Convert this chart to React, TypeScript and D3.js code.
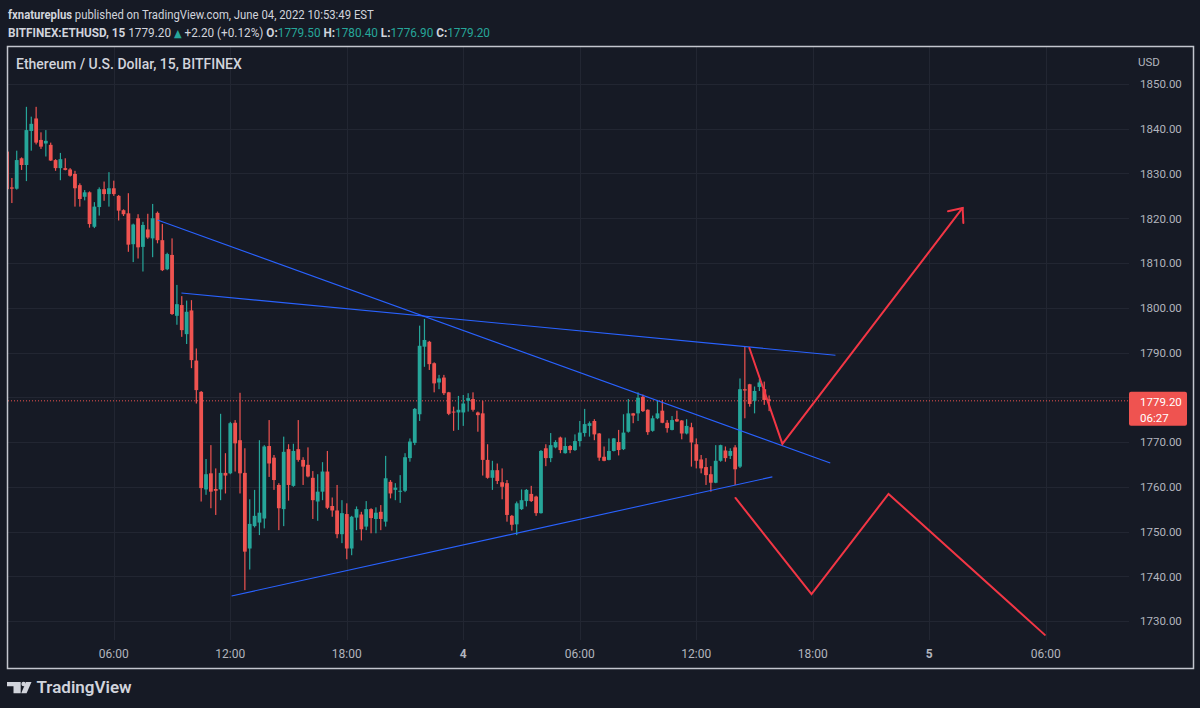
import React from "react";
import * as d3 from "d3";

const W = 1200;
const H = 708;

// 15-minute bars, first bar opens 2022-06-03 00:30
const BAR_START = Date.UTC(2022, 5, 3, 0, 30);
const BAR_MS = 15 * 60 * 1000;

const opens = [
  1834.9, 1826.9, 1826.6, 1833.4, 1831.9, 1839.5, 1842.3, 1837.5, 1836.7, 1836.4,
  1833.0, 1831.2, 1831.2, 1830.9, 1829.9, 1827.4, 1824.8, 1825.8, 1818.1, 1822.5,
  1826.5, 1825.4, 1826.7, 1825.0, 1821.8, 1821.1, 1814.2, 1820.0, 1813.6, 1817.5,
  1815.5, 1821.2, 1815.1, 1808.6, 1811.8, 1798.2, 1800.6, 1794.1, 1799.4, 1788.2,
  1781.2, 1759.4, 1763.0, 1759.5, 1759.4, 1763.1, 1763.0, 1774.3, 1770.4, 1763.1,
  1746.2, 1751.2, 1752.0, 1752.9, 1769.1, 1766.5, 1760.4, 1755.0, 1768.4, 1760.2,
  1768.4, 1766.0, 1764.9, 1762.0, 1756.7, 1758.9, 1763.4, 1755.7, 1754.7, 1749.4,
  1753.9, 1746.2, 1753.1, 1753.8, 1751.1, 1755.0, 1752.8, 1754.4, 1752.2, 1761.1,
  1759.3, 1758.9, 1759.1, 1766.4, 1769.8, 1776.2, 1791.3, 1792.4, 1787.6, 1783.3,
  1784.4, 1781.1, 1776.8, 1776.6, 1776.6, 1779.2, 1779.6, 1776.6, 1776.4, 1766.0,
  1762.0, 1763.7, 1761.0, 1760.8, 1753.5, 1751.6, 1755.0, 1756.8, 1758.4, 1757.8,
  1754.1, 1768.6, 1766.4, 1768.8, 1771.0, 1767.5, 1769.1, 1768.2, 1770.2, 1772.0,
  1773.6, 1774.7, 1771.9, 1766.7, 1766.0, 1768.0, 1770.0, 1768.4, 1772.3, 1776.4,
  1776.4, 1780.1, 1777.2, 1772.5, 1775.3, 1777.0, 1774.3, 1772.7, 1775.1, 1774.8,
  1771.9, 1773.3, 1769.5, 1766.1, 1764.4, 1762.8, 1760.9, 1765.8, 1768.1, 1766.9,
  1768.8, 1764.5, 1781.8, 1782.9, 1779.2, 1782.3, 1781.8, 1779.5,
];

const highs = [
  1835.5, 1829.0, 1835.1, 1833.6, 1844.9, 1842.7, 1844.9, 1839.2, 1839.7, 1836.9,
  1833.2, 1834.6, 1833.4, 1831.2, 1830.6, 1827.8, 1826.3, 1826.0, 1823.6, 1826.9,
  1828.2, 1830.3, 1828.4, 1825.2, 1822.0, 1825.6, 1818.8, 1820.9, 1819.2, 1821.0,
  1823.2, 1821.5, 1818.7, 1812.3, 1815.5, 1805.1, 1802.6, 1801.6, 1801.7, 1790.9,
  1781.4, 1766.2, 1769.3, 1764.1, 1776.3, 1767.5, 1774.5, 1774.9, 1781.0, 1768.6,
  1757.2, 1759.3, 1770.4, 1769.3, 1774.9, 1767.1, 1760.8, 1771.2, 1769.5, 1769.6,
  1774.9, 1766.6, 1768.8, 1763.5, 1762.8, 1765.5, 1768.0, 1757.6, 1760.4, 1757.0,
  1756.3, 1753.5, 1755.6, 1754.4, 1756.8, 1755.2, 1755.4, 1755.9, 1766.9, 1761.5,
  1760.8, 1762.6, 1767.5, 1770.8, 1777.6, 1796.0, 1797.5, 1792.6, 1787.8, 1785.0,
  1785.0, 1781.2, 1777.9, 1780.3, 1780.5, 1780.9, 1781.1, 1776.8, 1779.2, 1769.5,
  1765.8, 1765.2, 1764.1, 1761.5, 1753.7, 1756.7, 1759.4, 1759.5, 1760.2, 1758.0,
  1768.2, 1769.5, 1772.0, 1770.4, 1771.2, 1771.0, 1769.3, 1771.7, 1774.7, 1777.4,
  1774.6, 1775.1, 1772.0, 1769.0, 1770.8, 1770.9, 1772.7, 1776.2, 1779.6, 1776.5,
  1781.1, 1780.6, 1777.3, 1775.9, 1779.4, 1779.4, 1774.9, 1775.8, 1777.0, 1774.9,
  1775.1, 1774.3, 1770.8, 1767.1, 1766.4, 1764.6, 1769.3, 1769.4, 1769.0, 1768.6,
  1769.3, 1784.2, 1791.3, 1783.0, 1782.4, 1784.1, 1783.5, 1780.4,
];

const lows = [
  1826.0, 1823.4, 1826.4, 1830.8, 1828.3, 1835.1, 1836.5, 1835.5, 1833.8, 1832.8,
  1830.6, 1828.5, 1830.7, 1829.3, 1822.6, 1822.6, 1824.0, 1817.9, 1817.8, 1820.6,
  1823.9, 1822.6, 1825.0, 1819.5, 1820.5, 1812.5, 1810.2, 1811.0, 1808.1, 1815.4,
  1811.3, 1814.4, 1808.2, 1808.4, 1798.4, 1796.2, 1793.5, 1791.9, 1786.5, 1778.6,
  1756.7, 1758.2, 1755.2, 1753.7, 1757.0, 1758.5, 1762.8, 1763.4, 1758.5, 1736.9,
  1741.5, 1750.9, 1749.2, 1750.7, 1762.2, 1759.3, 1750.3, 1751.2, 1756.9, 1760.0,
  1765.6, 1760.4, 1762.1, 1752.8, 1752.4, 1757.0, 1755.0, 1753.3, 1748.5, 1747.4,
  1743.8, 1744.7, 1750.3, 1748.0, 1750.3, 1749.6, 1749.6, 1750.3, 1751.1, 1757.4,
  1757.0, 1756.4, 1758.8, 1765.6, 1769.3, 1774.7, 1786.8, 1786.1, 1781.1, 1781.8,
  1780.5, 1776.0, 1772.5, 1772.7, 1773.6, 1776.8, 1776.8, 1772.3, 1762.5, 1761.8,
  1759.3, 1760.6, 1757.2, 1752.2, 1750.2, 1749.2, 1754.8, 1755.6, 1756.6, 1753.5,
  1754.0, 1764.6, 1765.5, 1768.6, 1767.5, 1767.4, 1767.5, 1768.0, 1769.0, 1771.2,
  1771.2, 1770.4, 1765.8, 1765.7, 1765.9, 1767.9, 1767.0, 1768.2, 1772.1, 1774.2,
  1774.7, 1776.7, 1771.6, 1772.3, 1775.1, 1774.2, 1772.1, 1772.6, 1774.5, 1770.6,
  1771.7, 1764.5, 1764.1, 1763.0, 1760.4, 1758.9, 1760.8, 1765.6, 1765.6, 1766.2,
  1760.4, 1764.2, 1775.3, 1777.9, 1776.4, 1781.4, 1778.3, 1776.9,
];

const closes = [
  1826.5, 1826.6, 1833.0, 1831.9, 1839.7, 1841.1, 1836.9, 1836.0, 1837.3, 1832.9,
  1831.2, 1833.2, 1830.8, 1829.5, 1826.7, 1824.3, 1825.8, 1818.7, 1822.6, 1826.5,
  1825.4, 1826.7, 1825.4, 1821.7, 1820.9, 1814.1, 1818.6, 1813.5, 1818.5, 1815.7,
  1820.0, 1815.1, 1808.4, 1812.0, 1798.6, 1800.8, 1795.0, 1799.1, 1788.3, 1781.6,
  1759.7, 1762.8, 1758.9, 1759.1, 1763.1, 1762.5, 1774.2, 1769.7, 1763.0, 1745.5,
  1751.7, 1753.5, 1754.2, 1769.0, 1765.2, 1761.5, 1755.2, 1767.8, 1760.4, 1768.0,
  1766.0, 1764.5, 1762.3, 1757.0, 1758.9, 1763.4, 1755.3, 1754.7, 1749.4, 1754.1,
  1746.2, 1753.3, 1755.0, 1750.5, 1755.0, 1753.0, 1754.2, 1752.8, 1761.9, 1758.5,
  1759.8, 1759.1, 1766.6, 1770.1, 1777.4, 1791.5, 1792.8, 1787.4, 1783.1, 1784.2,
  1780.9, 1776.3, 1776.6, 1777.2, 1778.6, 1779.8, 1777.2, 1776.0, 1766.0, 1762.0,
  1763.7, 1761.3, 1760.0, 1753.7, 1751.5, 1756.3, 1757.0, 1759.3, 1756.8, 1754.1,
  1768.0, 1766.4, 1769.3, 1770.0, 1768.2, 1769.1, 1768.2, 1770.2, 1772.1, 1774.0,
  1774.2, 1771.7, 1766.5, 1765.8, 1768.0, 1770.8, 1768.2, 1772.1, 1776.4, 1775.9,
  1779.9, 1776.9, 1772.2, 1775.3, 1776.4, 1774.3, 1773.1, 1774.9, 1774.6, 1771.9,
  1773.6, 1769.9, 1765.8, 1764.1, 1762.6, 1760.9, 1765.8, 1769.3, 1766.4, 1768.0,
  1763.9, 1781.8, 1781.5, 1778.5, 1781.4, 1783.3, 1779.4, 1779.2,
];

const priceTicks = [1730, 1740, 1750, 1760, 1770, 1780, 1790, 1800, 1810, 1820, 1830, 1840, 1850];

const timeTicks = [
  Date.UTC(2022, 5, 3, 6), Date.UTC(2022, 5, 3, 12), Date.UTC(2022, 5, 3, 18),
  Date.UTC(2022, 5, 4, 0), Date.UTC(2022, 5, 4, 6), Date.UTC(2022, 5, 4, 12),
  Date.UTC(2022, 5, 4, 18), Date.UTC(2022, 5, 5, 0), Date.UTC(2022, 5, 5, 6),
];
const timeLabels = ["06:00", "12:00", "18:00", "4", "06:00", "12:00", "18:00", "5", "06:00"];

const lastPrice = 1779.2;
const countdown = "06:27";

// blue trend lines: [time, price] endpoints
const trendLines: [number, number][][] = [
  [[Date.UTC(2022, 5, 3, 8, 15), 1819.6], [Date.UTC(2022, 5, 4, 18, 54), 1765.3]],
  [[Date.UTC(2022, 5, 3, 9, 29), 1803.3], [Date.UTC(2022, 5, 4, 19, 10), 1789.4]],
  [[Date.UTC(2022, 5, 3, 12, 4), 1735.6], [Date.UTC(2022, 5, 4, 15, 55), 1762.2]],
];

// red projection paths
const bullPath: [number, number][] = [
  [Date.UTC(2022, 5, 4, 14, 44), 1791.0],
  [Date.UTC(2022, 5, 4, 16, 26), 1769.6],
  [Date.UTC(2022, 5, 5, 1, 43), 1822.3],
];
const bearPath: [number, number][] = [
  [Date.UTC(2022, 5, 4, 14, 1), 1757.5],
  [Date.UTC(2022, 5, 4, 17, 56), 1736.0],
  [Date.UTC(2022, 5, 4, 21, 54), 1758.4],
  [Date.UTC(2022, 5, 5, 5, 57), 1726.9],
];

const BG = "#161a25";
const GRID = "#222632";
const TEXT = "#d1d4dc";
const AXIS_TEXT = "#b2b5be";
const UP = "#26a69a";
const DOWN = "#ef5350";
const FONT = "Roboto, 'Noto Sans', sans-serif";

const PANE = { left: 8, top: 47, right: 1129, bottom: 640 };

export default function App() {
  const x = d3
    .scaleUtc()
    .domain([Date.UTC(2022, 5, 3, 6), Date.UTC(2022, 5, 4, 12)])
    .range([113.8, 696.3]);
  const y = d3.scaleLinear().domain([1730, 1850]).range([621, 84]);
  const line = d3
    .line<[number, number]>()
    .x((d) => x(d[0]))
    .y((d) => y(d[1]));

  const bodyW = 3.8;
  const candles = opens.map((o, i) => {
    const cx = x(BAR_START + i * BAR_MS);
    const c = closes[i];
    const up = c >= o;
    const top = y(Math.max(o, c));
    const bot = y(Math.min(o, c));
    return { cx, up, top, h: Math.max(1, bot - top), hi: y(highs[i]), lo: y(lows[i]) };
  });

  // arrow head on the end of the bullish path
  const tip = bullPath[bullPath.length - 1];
  const prev = bullPath[bullPath.length - 2];
  const tx = x(tip[0]);
  const ty = y(tip[1]);
  const ang = Math.atan2(y(prev[1]) - ty, x(prev[0]) - tx);
  const wing = (a: number) => [tx + 15 * Math.cos(ang + a), ty + 15 * Math.sin(ang + a)];
  const w1 = wing(0.7);
  const w2 = wing(-0.7);

  const py = y(lastPrice);
  // the last-price badge covers the axis labels next to it
  const axisTicks = priceTicks.filter((p) => Math.abs(y(p) - (py + 8)) > 22);

  return (
    <svg
      width={W}
      height={H}
      style={{ position: "absolute", left: 0, top: 0, display: "block" }}
      fontFamily={FONT}
    >
      <defs>
        <clipPath id="pane">
          <rect x={PANE.left} y={PANE.top} width={PANE.right - PANE.left} height={PANE.bottom - PANE.top} />
        </clipPath>
      </defs>
      <rect width={W} height={H} fill={BG} />

      {/* header, slightly condensed */}
      <g transform="translate(8,19) scale(0.871,1)">
        <text x={0} y={0} fontSize={13} fill={TEXT}>
          <tspan fontWeight={700}>fxnatureplus</tspan>
          <tspan> published on TradingView.com, June 04, 2022 10:53:49 EST</tspan>
        </text>
      </g>
      <g transform="translate(8,37) scale(0.906,1)">
        <text x={0} y={0} fontSize={13} fill={TEXT}>
          <tspan fontWeight={700}>BITFINEX:ETHUSD, 15</tspan>
          <tspan> 1779.20 </tspan>
          <tspan fill={UP} fontFamily="'DejaVu Sans'" fontSize={11}>▲</tspan>
          <tspan> +2.20 (+0.12%) </tspan>
          <tspan fontWeight={700}>O:</tspan>
          <tspan fill={UP}>1779.50 </tspan>
          <tspan fontWeight={700}>H:</tspan>
          <tspan fill={UP}>1780.40 </tspan>
          <tspan fontWeight={700}>L:</tspan>
          <tspan fill={UP}>1776.90 </tspan>
          <tspan fontWeight={700}>C:</tspan>
          <tspan fill={UP}>1779.20</tspan>
        </text>
      </g>

      {/* grid */}
      <g stroke={GRID} strokeWidth={1}>
        {priceTicks.map((p) => (
          <line key={p} x1={PANE.left} x2={PANE.right} y1={Math.round(y(p)) + 0.5} y2={Math.round(y(p)) + 0.5} />
        ))}
        {timeTicks.map((t) => (
          <line key={t} x1={Math.round(x(t)) + 0.5} x2={Math.round(x(t)) + 0.5} y1={PANE.top} y2={PANE.bottom} />
        ))}
      </g>

      <text x={16} y={69} fontSize={14} fontWeight={500} fill={TEXT}>
        Ethereum / U.S. Dollar, 15, BITFINEX
      </text>

      <g clipPath="url(#pane)">
        {/* last price line */}
        <line x1={PANE.left} x2={PANE.right} y1={py} y2={py} stroke={DOWN} strokeWidth={1} strokeDasharray="1 2" />

        {/* candles */}
        {candles.map((c, i) => (
          <g key={i} fill={c.up ? UP : DOWN}>
            <rect x={c.cx - 0.6} y={c.hi} width={1.2} height={Math.max(1, c.lo - c.hi)} />
            <rect x={c.cx - bodyW / 2} y={c.top} width={bodyW} height={c.h} />
          </g>
        ))}

        {/* trend lines */}
        {trendLines.map((tl, i) => (
          <path key={i} d={line(tl) || ""} fill="none" stroke="#2962ff" strokeWidth={1.1} />
        ))}

        {/* projections */}
        <g fill="none" stroke="#f23645" strokeWidth={2} strokeLinejoin="miter" strokeLinecap="round">
          <path d={line(bullPath) || ""} />
          <path d={`M${w1[0]},${w1[1]}L${tx},${ty}L${w2[0]},${w2[1]}`} />
          <path d={line(bearPath) || ""} />
        </g>
      </g>

      {/* price axis */}
      <text x={1138} y={66} fontSize={11.5} fill={AXIS_TEXT}>USD</text>
      {axisTicks.map((p) => (
        <text key={p} x={1140} y={y(p) + 4.3} fontSize={11.5} fill={AXIS_TEXT}>
          {p.toFixed(2)}
        </text>
      ))}
      <rect x={1129} y={py - 9} width={58} height={34} rx={2} fill={DOWN} />
      <text x={1140} y={py + 5.5} fontSize={11.5} fill="#ffffff">{lastPrice.toFixed(2)}</text>
      <text x={1140} y={py + 21} fontSize={11.5} fill="#ffffff">{countdown}</text>

      {/* time axis */}
      {timeTicks.map((t, i) => (
        <text
          key={t}
          x={x(t)}
          y={658}
          fontSize={12}
          textAnchor="middle"
          fill={AXIS_TEXT}
          fontWeight={timeLabels[i].length < 3 ? 700 : 400}
        >
          {timeLabels[i]}
        </text>
      ))}

      {/* frame */}
      <rect x={7.5} y={46.5} width={1186} height={622} fill="none" stroke="#c3c6ce" strokeWidth={1.5} />

      {/* logo */}
      <g fill={TEXT}>
        <path d="M7,682 H20.7 V693.3 H13.5 V686.2 H7 Z" />
        <circle cx={23.6} cy={684} r={2.2} />
        <path d="M26,682 H31.5 L26.6,693.3 H21.2 Z" />
        <text x={36.5} y={693} fontSize={17} fontWeight={600}>TradingView</text>
      </g>
    </svg>
  );
}
